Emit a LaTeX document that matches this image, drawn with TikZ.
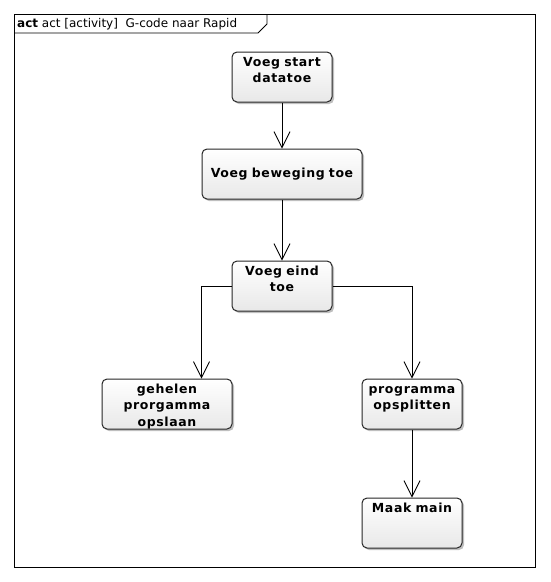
\documentclass[tikz,border=0pt]{standalone}
\usepackage{fontspec}
\setmainfont{DejaVu Sans}
\usetikzlibrary{arrows.meta,positioning,shadows}
\tikzset{
    actbox/.style={
    rectangle,rounded corners=5pt,draw=black!85,line width=1pt,
    top color=white,bottom color=black!9,
    drop shadow={shadow xshift=2pt,shadow yshift=-2pt,opacity=0.25,fill=black},
    align=center,inner xsep=3pt,inner ysep=3pt,
    font=\fontsize{12.5}{16.5}\selectfont\bfseries\addfontfeature{LetterSpace=5}
    },
    topbox/.style={
    text height=11pt,text depth=33pt
    },
    flow/.style={
    draw=black,line width=0.8pt,-{Straight Barb[length=16pt,width=16pt,line width=0.8pt]}
    },
    frame/.style={
    draw=black,line width=0.8pt
    },
}
\begin{document}
\begin{tikzpicture}[x=1pt,y=-1pt]
  \useasboundingbox (0,0) rectangle (550,582);
  % frame with title tab
  \draw[frame] (14,14) rectangle (535,567);
  \draw[frame] (14,33) -- (258,33) -- (267,24) -- (267,14);
  \node[anchor=west,inner sep=0pt,font=\fontsize{12}{13}\selectfont] (title) at (17,24)
    {\textbf{act} act [activity]\ \ G-code naar Rapid};

  \node[actbox,topbox,text width=94pt] (start) at (282,77) {Voeg start\\datatoe};
  \node[actbox,text width=154pt,minimum height=50pt] (bew) at (282,174) {Voeg beweging toe};
  \node[actbox,topbox,text width=94pt] (eind) at (282,286) {Voeg eind\\toe};
  \node[actbox,topbox,text width=124pt] (gehelen) at (167,404) {gehelen\\prorgamma\\opslaan};
  \node[actbox,topbox,text width=94pt] (split) at (412,404) {programma\\opsplitten};
  \node[actbox,topbox,text width=94pt] (main) at (412,523) {Maak main};

  \path[flow]
    (start) edge (bew)
    (bew)   edge (eind)
    (split) edge (main);
  \draw[flow] (eind.west) -| (gehelen.north -| bew.west);
  \draw[flow] (eind.east) -| (split.north);

\end{tikzpicture}
\end{document}
